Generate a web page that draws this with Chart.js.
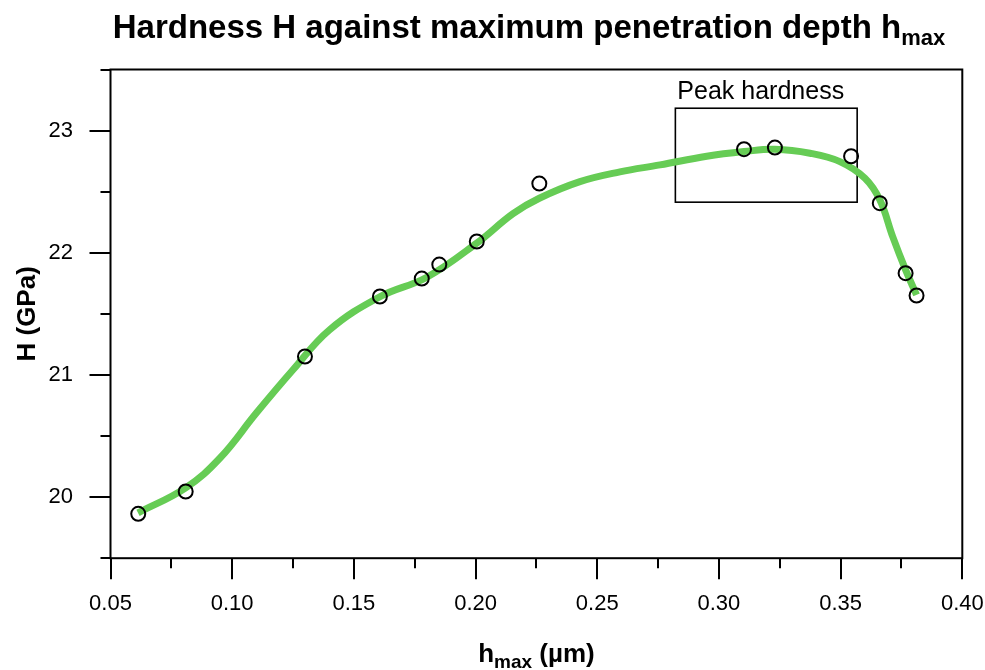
<!DOCTYPE html>
<html><head><meta charset="utf-8">
<script src="https://cdn.jsdelivr.net/npm/chart.js@4/dist/chart.umd.min.js"></script>
<style>html,body{margin:0;padding:0;background:#fff}#wrap{width:985px;height:670px}</style>
</head><body><div id="wrap"><canvas id="c" width="985" height="670"></canvas></div>
<script>
// measured points
const measX = [0.0614, 0.0809, 0.1299, 0.1607, 0.1779, 0.1851, 0.2005, 0.2262, 0.3103, 0.3230, 0.3543, 0.3661, 0.3767, 0.3812];
const measY = [19.863, 20.046, 21.151, 21.642, 21.789, 21.903, 22.092, 22.566, 22.848, 22.861, 22.790, 22.406, 21.833, 21.650];
// smooth fit curve
const fitX = [0.0613, 0.0809, 0.0950, 0.1100, 0.1250, 0.1400, 0.1607, 0.1800, 0.2005, 0.2154, 0.2262, 0.2429, 0.2593, 0.2758, 0.2950, 0.3103, 0.3230, 0.3374, 0.3497, 0.3600, 0.3661, 0.3714, 0.3767, 0.3812];
const fitY = [19.871, 20.076, 20.320, 20.690, 21.042, 21.369, 21.640, 21.800, 22.079, 22.320, 22.446, 22.582, 22.662, 22.719, 22.790, 22.828, 22.847, 22.815, 22.746, 22.610, 22.433, 22.132, 21.860, 21.655];
// axes
const xRange = [0.05, 0.40];
const xStep = 0.025;
const yRange = [19.5, 23.5];
const yStep = 0.5;
// annotation box
const boxX = [0.2821, 0.3568];
const boxY = [22.414, 23.183];
const boxLabel = 'Peak hardness';
// texts
const titleMain = 'Hardness H against maximum penetration depth h';
const titleSub = 'max';
const xTitleMain = 'h', xTitleSub = 'max', xTitleTail = ' (µm)';
const yTitle = 'H (GPa)';

const FONT = '"Liberation Sans", Arial, Helvetica, sans-serif';
const GREEN = '#66cc55';

function drawSubText(ctx, parts, cx, baseline) {
  let w = 0;
  parts.forEach(p => { ctx.font = 'bold ' + p.size + 'px ' + FONT; p.w = ctx.measureText(p.t).width; w += p.w; });
  let x = cx - w / 2;
  ctx.textAlign = 'left'; ctx.textBaseline = 'alphabetic';
  parts.forEach(p => { ctx.font = 'bold ' + p.size + 'px ' + FONT; ctx.fillText(p.t, x, baseline + p.dy); x += p.w; });
}

const decor = {
  id: 'decor',
  beforeDatasetsDraw(chart) {
    const {ctx, scales: {x, y}} = chart;
    ctx.save();
    const l = x.getPixelForValue(boxX[0]), r = x.getPixelForValue(boxX[1]);
    const t = y.getPixelForValue(boxY[1]), b = y.getPixelForValue(boxY[0]);
    ctx.strokeStyle = '#000'; ctx.lineWidth = 1.6;
    ctx.strokeRect(l, t, r - l, b - t);
    ctx.fillStyle = '#000';
    ctx.font = '25px ' + FONT; ctx.textAlign = 'left'; ctx.textBaseline = 'alphabetic';
    ctx.fillText(boxLabel, l + 2, t - 9);
    ctx.restore();
  },
  afterDraw(chart) {
    const {ctx, chartArea: a, scales: {x, y}} = chart;
    ctx.save();
    ctx.strokeStyle = '#000'; ctx.lineWidth = 2;
    ctx.strokeRect(a.left, a.top, a.right - a.left, a.bottom - a.top);
    ctx.beginPath();
    x.ticks.forEach(tk => {
      const px = Math.round(x.getPixelForValue(tk.value));
      const L = tk.label ? 21 : 10;
      ctx.moveTo(px, a.bottom); ctx.lineTo(px, a.bottom + L);
    });
    y.ticks.forEach(tk => {
      const py = Math.round(y.getPixelForValue(tk.value));
      const L = tk.label ? 21 : 10;
      ctx.moveTo(a.left, py); ctx.lineTo(a.left - L, py);
    });
    ctx.stroke();
    ctx.fillStyle = '#000';
    drawSubText(ctx, [{t: titleMain, size: 33, dy: 0}, {t: titleSub, size: 22, dy: 7}], 529, 38);
    drawSubText(ctx, [{t: xTitleMain, size: 26, dy: 0}, {t: xTitleSub, size: 19, dy: 6}, {t: xTitleTail, size: 26, dy: 0}], (a.left + a.right) / 2, 662);
    ctx.translate(35, (a.top + a.bottom) / 2);
    ctx.rotate(-Math.PI / 2);
    ctx.font = 'bold 26px ' + FONT; ctx.textAlign = 'center'; ctx.textBaseline = 'alphabetic';
    ctx.fillText(yTitle, 0, 0);
    ctx.restore();
  }
};

new Chart(document.getElementById('c'), {
  type: 'scatter',
  data: {
    datasets: [
      {
        label: 'measured',
        data: measX.map((v, i) => ({x: v, y: measY[i]})),
        showLine: false,
        pointRadius: 7,
        pointBorderWidth: 2,
        pointBorderColor: '#000',
        pointBackgroundColor: 'rgba(0,0,0,0)'
      },
      {
        label: 'fit',
        data: fitX.map((v, i) => ({x: v, y: fitY[i]})),
        showLine: true,
        pointRadius: 0,
        borderColor: GREEN,
        borderWidth: 7,
        tension: 0.4,
        borderCapStyle: 'butt'
      }
    ]
  },
  options: {
    responsive: false,
    animation: false,
    devicePixelRatio: 1,
    layout: {padding: {top: 69.5, right: 22.7, left: 0, bottom: 0}},
    plugins: {legend: {display: false}, tooltip: {enabled: false}, title: {display: false}},
    scales: {
      x: {
        type: 'linear', min: xRange[0], max: xRange[1],
        grid: {display: false}, border: {display: false},
        ticks: {
          stepSize: xStep, autoSkip: false, maxRotation: 0, padding: 25,
          color: '#000', font: {family: FONT, size: 22},
          callback: v => Math.abs(v * 20 - Math.round(v * 20)) < 1e-6 ? v.toFixed(2) : ''
        },
        afterFit: s => { s.height = 111.8; s.paddingLeft = 0; s.paddingRight = 0; }
      },
      y: {
        type: 'linear', min: yRange[0], max: yRange[1],
        grid: {display: false}, border: {display: false},
        ticks: {
          stepSize: yStep, autoSkip: false, padding: 29.5,
          color: '#000', font: {family: FONT, size: 22},
          callback: v => Math.abs(v - Math.round(v)) < 1e-6 ? String(Math.round(v)) : ''
        },
        afterFit: s => { s.width = 110.5; s.paddingTop = 0; s.paddingBottom = 0; }
      }
    }
  },
  plugins: [decor]
});
</script>
</body></html>
